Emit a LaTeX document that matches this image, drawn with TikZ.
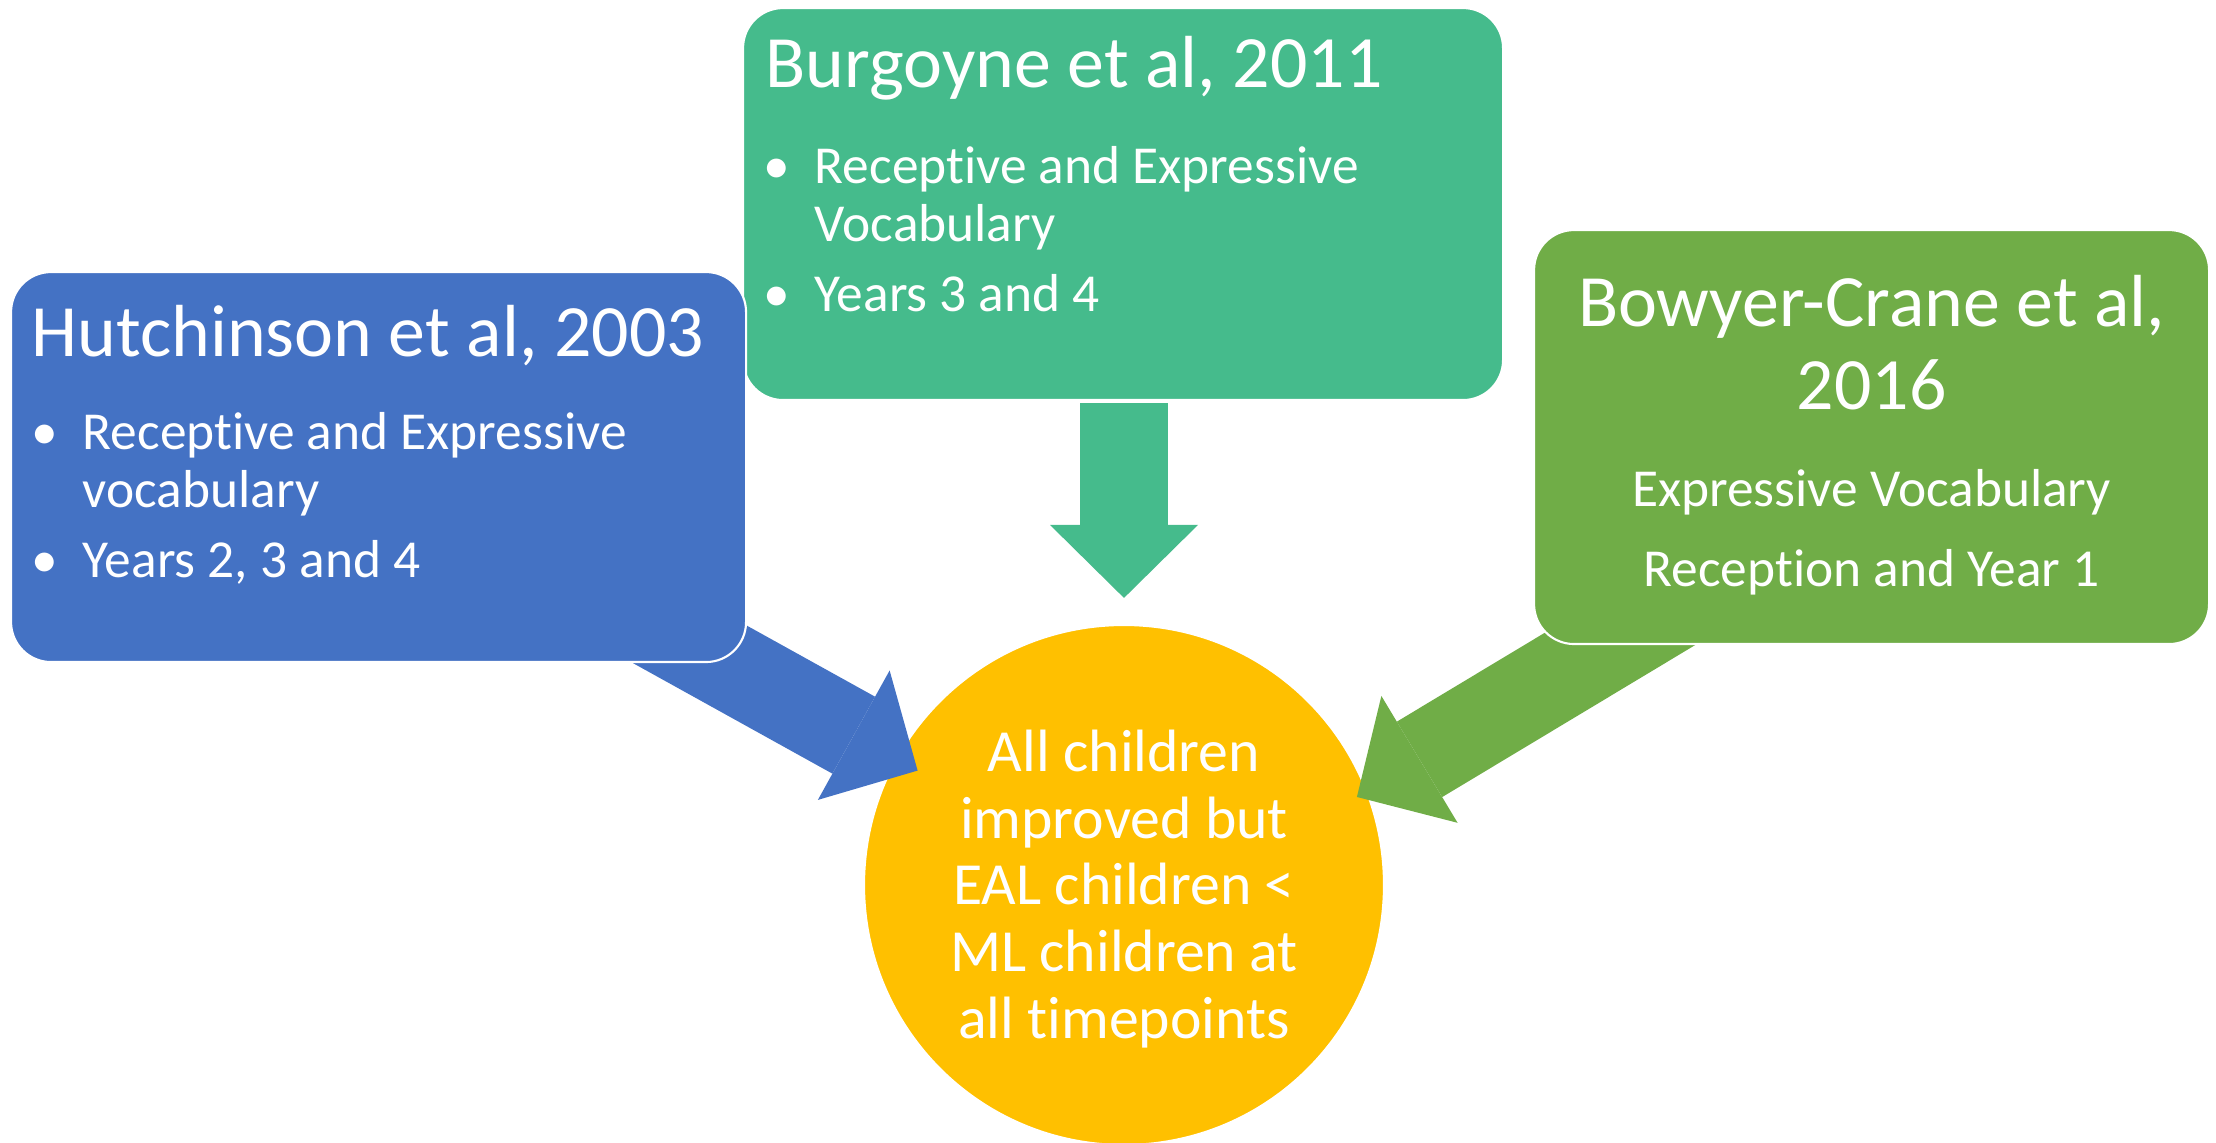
\documentclass[tikz,border=0pt]{standalone}
\usepackage{fontspec}
\setmainfont{Carlito}[Ligatures={NoCommon}]
\usetikzlibrary{positioning,calc,arrows.meta}

\definecolor{hutchblue}{HTML}{4472C4}
\definecolor{burgteal}{HTML}{45BB8C}
\definecolor{bowgreen}{HTML}{70AD47}
\definecolor{resultgold}{HTML}{FFC000}

\tikzset{
  card/.style={draw=white, line width=0.6pt, rounded corners=0.4cm, inner sep=0pt, anchor=north west},
  heading/.style={text=white, font=\fontsize{21}{23}\selectfont, inner sep=0pt, anchor=base west},
  point/.style={text=white, font=\fontsize{15.2}{17}\selectfont, inner sep=0pt, anchor=base west},
  dot/.style={point, anchor=base},
  fat/.style={line width=0.88cm, -{Triangle[length=0.73cm,width=1.48cm,line width=0pt]}},
}

\begin{document}
\begin{tikzpicture}
  \useasboundingbox (0,0) rectangle (22.16,11.43);

  % outcome in the middle
  \node[circle, fill=resultgold, draw=white, line width=0.6pt, minimum size=5.2cm, inner sep=0pt] (result) at (11.24,2.58) {};
  \node[text=white, font=\fontsize{17}{19}\selectfont, align=center] (resultT) at ($(result.center)+(0,-0.04)$)
    {All children\\improved but\\EAL children <\\ML children at\\all timepoints};

  % Burgoyne (top)
  \node[card, fill=burgteal, minimum width=7.60cm, minimum height=3.92cm] (burg) at (7.42,11.36) {};
  \node[heading] (burgT) at ($(burg.north west)+(0.23,-0.81)$) {Burgoyne et al, 2011};
  \node[dot] (burgB1) at ($(burg.north west)+(0.35,-1.77)$) {\textbullet};
  \node[point] (burgP1) at ($(burg.north west)+(0.72,-1.77)$) {Receptive and Expressive};
  \node[point] (burgP1b) at ($(burg.north west)+(0.72,-2.35)$) {Vocabulary};
  \node[dot] (burgB2) at ($(burg.north west)+(0.35,-3.05)$) {\textbullet};
  \node[point] (burgP2) at ($(burg.north west)+(0.72,-3.05)$) {Years 3 and 4};

  % block arrows into the circle
  \coordinate (hutchEnd) at ($(result.center)+(151:2.36)$);
  \coordinate (hutchStart) at ($(result.center)+(151:6)$);
  \coordinate (bowEnd) at ($(result.center)+(20.7:2.49)$);
  \coordinate (bowStart) at ($(bowEnd)+(31:3.9)$);

  \draw[fat, burgteal] ($(burg.south -| result.north)+(0,-0.02)$) -- ($(result.north)+(0,0.26)$);
  \draw[fat, hutchblue] (hutchStart) -- (hutchEnd);
  \draw[fat, bowgreen] (bowStart) -- (bowEnd);

  % Hutchinson (left)
  \node[card, fill=hutchblue, minimum width=7.35cm, minimum height=3.90cm] (hutch) at (0.10,8.72) {};
  \node[heading] (hutchT) at ($(hutch.north west)+(0.21,-0.86)$) {Hutchinson et al, 2003};
  \node[dot] (hutchB1) at ($(hutch.north west)+(0.35,-1.79)$) {\textbullet};
  \node[point] (hutchP1) at ($(hutch.north west)+(0.72,-1.79)$) {Receptive and Expressive};
  \node[point] (hutchP1b) at ($(hutch.north west)+(0.72,-2.37)$) {vocabulary};
  \node[dot] (hutchB2) at ($(hutch.north west)+(0.35,-3.07)$) {\textbullet};
  \node[point] (hutchP2) at ($(hutch.north west)+(0.72,-3.07)$) {Years 2, 3 and 4};

  % Bowyer-Crane (right)
  \node[card, fill=bowgreen, minimum width=6.75cm, minimum height=4.14cm] (bow) at (15.33,9.14) {};
  \node[heading, anchor=base] (bowT1) at ($(bow.north)+(0,-0.98)$) {Bowyer-Crane et al,};
  \node[heading, anchor=base] (bowT2) at ($(bow.north)+(0,-1.81)$) {2016};
  \node[point, anchor=base] (bowP1) at ($(bow.north)+(0,-2.78)$) {Expressive Vocabulary};
  \node[point, anchor=base] (bowP2) at ($(bow.north)+(0,-3.58)$) {Reception and Year 1};
\end{tikzpicture}
\end{document}
